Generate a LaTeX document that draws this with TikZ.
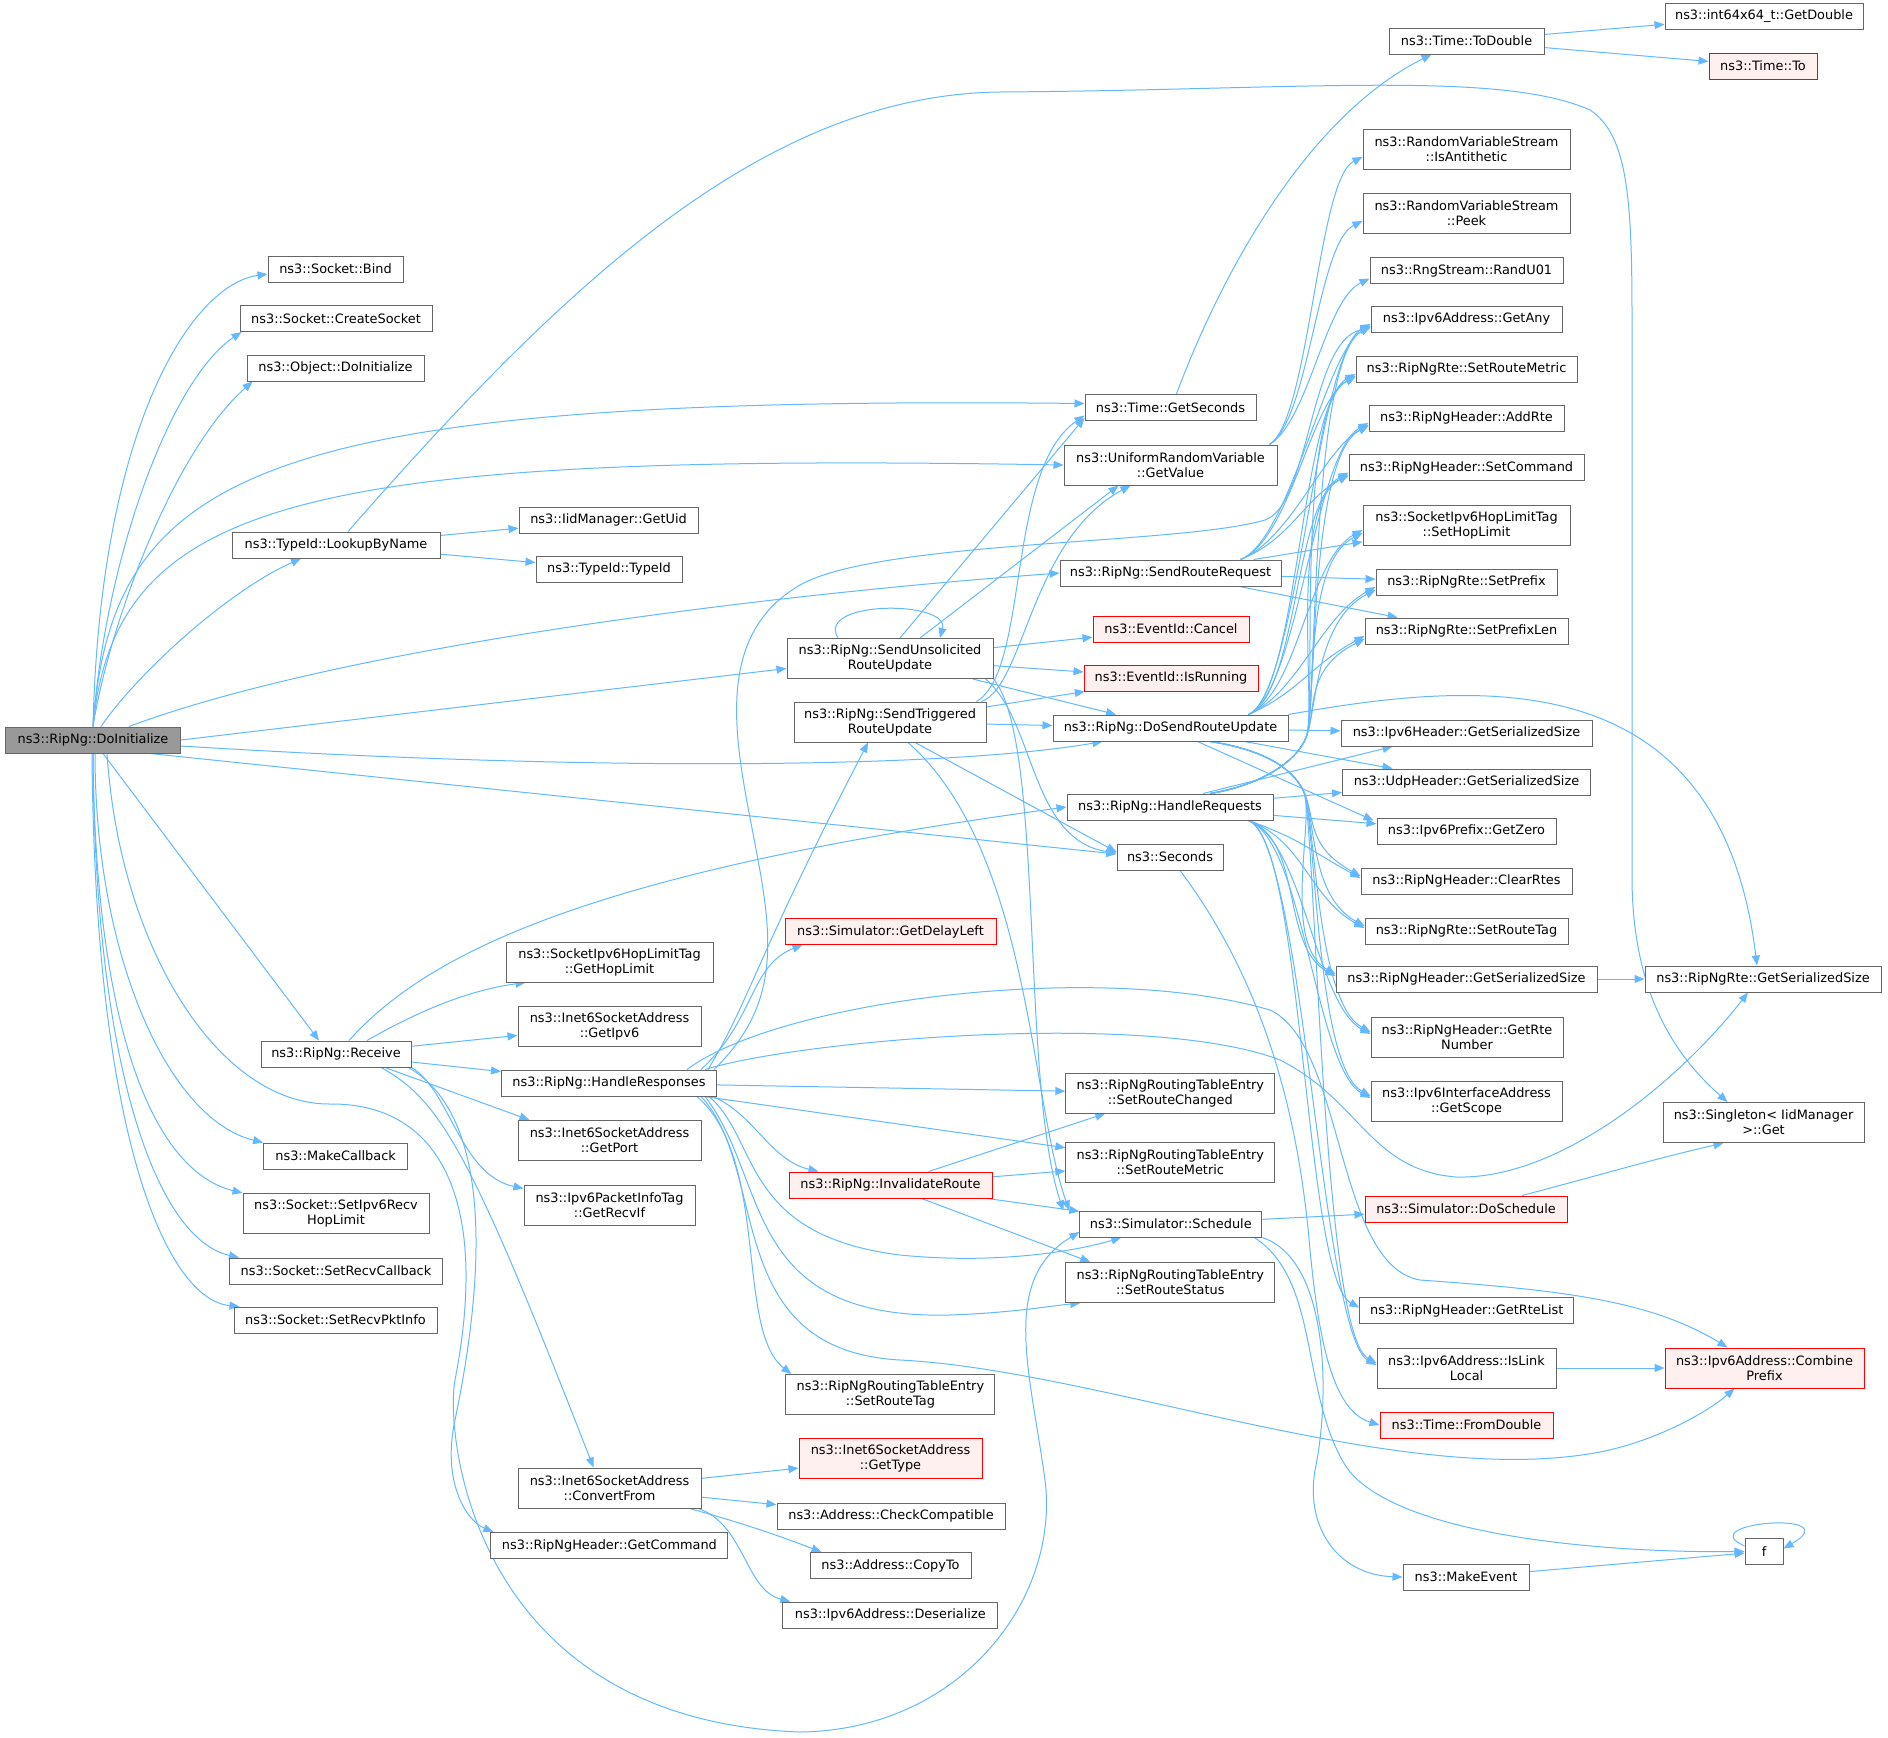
\documentclass[tikz,border=0pt]{standalone}
\usepackage{fontspec}
\usetikzlibrary{arrows.meta,calc}
\newfontfamily\doxyFont{DejaVu Sans}
\definecolor{edgeBlue}{HTML}{63B8FF}
\definecolor{boxGray}{HTML}{666666}
\definecolor{mainFill}{HTML}{999999}
\definecolor{redFill}{HTML}{FFF0F0}

\tikzset{every picture/.style={line width=0.75pt},
        fnBox/.style={draw=boxGray, fill=white, line width=0.75pt, inner sep=0pt, minimum height=19.5pt, align=center, font=\doxyFont\fontsize{9.67pt}{11.25pt}\selectfont},
        fnRed/.style={fnBox, draw=red, fill=redFill},
        fnMain/.style={fnBox, fill=mainFill},
        twoLine/.style={minimum height=30pt},
        wd/.style={minimum width=#1*0.75pt},
        callArrow/.style={draw=edgeBlue, line width=0.75pt, -{Triangle[length=7.5pt,width=6pt]}}}

% all function boxes, drawn twice so that lines don't go over them
\newcommand{\drawFunctions}{
    \node[fnMain, wd=175] (doinit) at (93,740) {ns3::RipNg::DoInitialize};
    \node[fnBox, wd=135] (bind) at (335.5,269) {ns3::Socket::Bind};
    \node[fnBox, wd=192] (createsock) at (336,318.5) {ns3::Socket::CreateSocket};
    \node[fnBox, wd=177] (objinit) at (335.5,368) {ns3::Object::DoInitialize};
    \node[fnBox, wd=208] (lookup) at (336,545) {ns3::TypeId::LookupByName};
    \node[fnBox, wd=179] (getuid) at (608.5,520) {ns3::IidManager::GetUid};
    \node[fnBox, wd=146] (typeid) at (609,569) {ns3::TypeId::TypeId};
    \node[fnBox, twoLine, wd=206] (sendunsol) at (890,658.5) {ns3::RipNg::SendUnsolicited\\RouteUpdate};
    \node[fnBox, twoLine, wd=192] (sendtrig) at (890,722) {ns3::RipNg::SendTriggered\\RouteUpdate};
    \node[fnBox, wd=155] (todouble) at (1466.5,41) {ns3::Time::ToDouble};
    \node[fnBox, wd=198] (getdouble) at (1764,16) {ns3::int64x64\_t::GetDouble};
    \node[fnRed, wd=108] (timeto) at (1763,66) {ns3::Time::To};
    \node[fnBox, twoLine, wd=207] (antithetic) at (1466.5,149) {ns3::RandomVariableStream\\::IsAntithetic};
    \node[fnBox, twoLine, wd=207] (peek) at (1466.5,213) {ns3::RandomVariableStream\\::Peek};
    \node[fnBox, wd=193] (randu01) at (1466.5,270.5) {ns3::RngStream::RandU01};
    \node[fnBox, wd=191] (getany) at (1466.5,319) {ns3::Ipv6Address::GetAny};
    \node[fnBox, wd=221] (rtemetric) at (1466.5,369) {ns3::RipNgRte::SetRouteMetric};
    \node[fnBox, wd=195] (addrte) at (1466.5,418) {ns3::RipNgHeader::AddRte};
    \node[fnBox, wd=235] (setcmd) at (1466.5,467.5) {ns3::RipNgHeader::SetCommand};
    \node[fnBox, twoLine, wd=207] (sethop) at (1466.5,525) {ns3::SocketIpv6HopLimitTag\\::SetHopLimit};
    \node[fnBox, wd=181] (setprefix) at (1466.5,582) {ns3::RipNgRte::SetPrefix};
    \node[fnBox, wd=203] (setprefixlen) at (1466.5,631) {ns3::RipNgRte::SetPrefixLen};
    \node[fnBox, wd=171] (getsec) at (1170.5,407.5) {ns3::Time::GetSeconds};
    \node[fnBox, twoLine, wd=213] (getvalue) at (1170.5,465) {ns3::UniformRandomVariable\\::GetValue};
    \node[fnBox, wd=221] (sendreq) at (1170.5,573) {ns3::RipNg::SendRouteRequest};
    \node[fnRed, wd=156] (cancel) at (1171,629) {ns3::EventId::Cancel};
    \node[fnRed, wd=174] (isrunning) at (1171,678) {ns3::EventId::IsRunning};
    \node[fnBox, wd=235] (dosend) at (1170.5,728) {ns3::RipNg::DoSendRouteUpdate};
    \node[fnBox, wd=251] (ipv6hdrsize) at (1466.5,733) {ns3::Ipv6Header::GetSerializedSize};
    \node[fnBox, wd=248] (udpsize) at (1466.5,782) {ns3::UdpHeader::GetSerializedSize};
    \node[fnBox, wd=206] (handlereq) at (1170,807) {ns3::RipNg::HandleRequests};
    \node[fnBox, wd=179] (getzero) at (1466.5,831) {ns3::Ipv6Prefix::GetZero};
    \node[fnBox, wd=106] (seconds) at (1170,857) {ns3::Seconds};
    \node[fnBox, wd=150] (receive) at (336,1054) {ns3::RipNg::Receive};
    \node[fnBox, twoLine, wd=207] (gethop) at (609.5,962) {ns3::SocketIpv6HopLimitTag\\::GetHopLimit};
    \node[fnBox, twoLine, wd=183] (getipv6) at (609.5,1026) {ns3::Inet6SocketAddress\\::GetIpv6};
    \node[fnBox, wd=215] (handleresp) at (609,1083) {ns3::RipNg::HandleResponses};
    \node[fnBox, twoLine, wd=183] (getport) at (609.5,1140.5) {ns3::Inet6SocketAddress\\::GetPort};
    \node[fnBox, wd=144] (makecb) at (335.6,1156) {ns3::MakeCallback};
    \node[fnBox, twoLine, wd=171] (getrecvif) at (609.5,1205) {ns3::Ipv6PacketInfoTag\\::GetRecvIf};
    \node[fnBox, twoLine, wd=186] (sethoprecv) at (336,1213.5) {ns3::Socket::SetIpv6Recv\\HopLimit};
    \node[fnBox, wd=213] (setrecvcb) at (336,1271) {ns3::Socket::SetRecvCallback};
    \node[fnBox, wd=203] (setpktinfo) at (335.5,1320) {ns3::Socket::SetRecvPktInfo};
    \node[fnRed, wd=211] (delayleft) at (890.5,931.5) {ns3::Simulator::GetDelayLeft};
    \node[fnRed, wd=203] (invalidate) at (890.5,1185) {ns3::RipNg::InvalidateRoute};
    \node[fnBox, twoLine, wd=209] (entrytag) at (890.4,1394.5) {ns3::RipNgRoutingTableEntry\\::SetRouteTag};
    \node[fnRed, twoLine, wd=183] (gettype) at (890.5,1458.5) {ns3::Inet6SocketAddress\\::GetType};
    \node[fnBox, twoLine, wd=183] (convertfrom) at (609.5,1488) {ns3::Inet6SocketAddress\\::ConvertFrom};
    \node[fnBox, wd=228] (checkcompat) at (891,1516) {ns3::Address::CheckCompatible};
    \node[fnBox, wd=161] (copyto) at (890.5,1565.5) {ns3::Address::CopyTo};
    \node[fnBox, wd=215] (deserialize) at (890.3,1615) {ns3::Ipv6Address::Deserialize};
    \node[fnBox, wd=237] (getcommand) at (609.4,1545.5) {ns3::RipNgHeader::GetCommand};
    \node[fnBox, wd=211] (clearrtes) at (1466.5,881) {ns3::RipNgHeader::ClearRtes};
    \node[fnBox, wd=203] (rtetag) at (1466.5,931) {ns3::RipNgRte::SetRouteTag};
    \node[fnBox, wd=261] (hdrsize) at (1466.5,979) {ns3::RipNgHeader::GetSerializedSize};
    \node[fnBox, wd=236] (rtesize) at (1763,979) {ns3::RipNgRte::GetSerializedSize};
    \node[fnBox, twoLine, wd=192] (rtenumber) at (1467,1037) {ns3::RipNgHeader::GetRte\\Number};
    \node[fnBox, twoLine, wd=191] (getscope) at (1466.5,1101) {ns3::Ipv6InterfaceAddress\\::GetScope};
    \node[fnBox, twoLine, wd=201] (singleton) at (1763.5,1122.5) {ns3::Singleton< IidManager\\>::Get};
    \node[fnBox, twoLine, wd=209] (routechanged) at (1170.3,1093) {ns3::RipNgRoutingTableEntry\\::SetRouteChanged};
    \node[fnBox, twoLine, wd=209] (entrymetric) at (1170.3,1162.5) {ns3::RipNgRoutingTableEntry\\::SetRouteMetric};
    \node[fnBox, wd=182] (schedule) at (1170.8,1224) {ns3::Simulator::Schedule};
    \node[fnRed, wd=202] (doschedule) at (1466,1209) {ns3::Simulator::DoSchedule};
    \node[fnBox, twoLine, wd=209] (routestatus) at (1170.3,1282.5) {ns3::RipNgRoutingTableEntry\\::SetRouteStatus};
    \node[fnBox, wd=214] (getrtelist) at (1466.8,1310.5) {ns3::RipNgHeader::GetRteList};
    \node[fnBox, twoLine, wd=179] (islinklocal) at (1466.5,1368) {ns3::Ipv6Address::IsLink\\Local};
    \node[fnRed, twoLine, wd=199] (combineprefix) at (1764.5,1368) {ns3::Ipv6Address::Combine\\Prefix};
    \node[fnRed, wd=173] (fromdouble) at (1466.5,1425) {ns3::Time::FromDouble};
    \node[fnBox, wd=38] (f) at (1764,1551.5) {f};
    \node[fnBox, wd=126] (makeevent) at (1466,1577) {ns3::MakeEvent};
}

\begin{document}
\begin{tikzpicture}[x=0.75pt, y=-0.75pt]
\useasboundingbox (0,0) rectangle (1888,1738);

% draw nodes
\drawFunctions

% calls of DoInitialize
\draw[callArrow] (doinit.north) .. controls (100,430) and (190,285) .. ($(bind.west)+(0,5)$);
\draw[callArrow] (doinit.north) .. controls (105,560) and (170,380) .. ($(createsock.south west)+(2,0)$);
\draw[callArrow] (doinit.north) .. controls (110,620) and (175,450) .. ($(objinit.south west)+(6,0)$);
\draw[callArrow] (doinit.north) .. controls (112,470) and (260,395) .. ($(getsec.west)+(0,-4)$);
\draw[callArrow] (doinit.north) .. controls (115,500) and (300,452) .. (getvalue.west);
\draw[callArrow] ($(doinit.north)+(8,0)$) .. controls (140,670) and (230,590) .. ($(lookup.south)+(-35,0)$);
\draw[callArrow] ($(doinit.north)+(36,0)$) .. controls (320,655) and (700,600) .. (sendreq.west);
\draw[callArrow] (doinit.east) -- ($(sendunsol.west)+(0,10)$);
\draw[callArrow] ($(doinit.east)+(0,6)$) .. controls (600,772) and (950,768) .. ($(dosend.south west)+(50,0)$);
\draw[callArrow] ($(doinit.south)+(57,0)$) -- ($(seconds.west)+(0,-3)$);
\draw[callArrow] ($(doinit.south)+(10,0)$) -- ($(receive.north)+(-17,0)$);
\draw[callArrow] ($(doinit.south)+(2,0)$) .. controls (95,960) and (170,1120) .. (makecb.north west);
\draw[callArrow] (doinit.south) .. controls (95,1020) and (150,1170) .. (sethoprecv.north west);
\draw[callArrow] (doinit.south) .. controls (95,1080) and (160,1240) .. ($(setrecvcb.north west)+(10,0)$);
\draw[callArrow] ($(doinit.south)+(-1,0)$) .. controls (95,1150) and (170,1300) .. ($(setpktinfo.north west)+(6,0)$);
\draw[callArrow] ($(doinit.south)+(14,0)$) .. controls (120,950) and (220,1105) .. (330,1104) .. controls (440,1103) and (490,1200) .. (455,1380) .. controls (445,1432) and (470,1720) .. (800,1732) .. controls (960,1730) and (1060,1600) .. (1045,1480) .. controls (1030,1370) and (1000,1280) .. ($(schedule.west)+(0,8)$);

% calls of LookupByName and of the time helpers
\draw[callArrow] (lookup) -- (getuid);
\draw[callArrow] (lookup) -- (typeid);
\draw[callArrow] ($(lookup.north)+(12,0)$) .. controls (560,290) and (760,95) .. (1000,92) .. controls (1300,90) and (1500,70) .. (1590,110) .. controls (1628,135) and (1632,200) .. (1632,320) -- (1632,880) .. controls (1633,1000) and (1680,1060) .. ($(singleton.north)+(-36,0)$);
\draw[callArrow] ($(getsec.north)+(6,0)$) .. controls (1215,290) and (1300,120) .. ($(todouble.south west)+(43,0)$);
\draw[callArrow] (todouble) -- (getdouble);
\draw[callArrow] (todouble) -- (timeto);
\foreach \callee in {antithetic,peek,randu01} {
    \draw[callArrow] ($(getvalue.north east)+(-8,0)$) .. controls +(40,-25) and +(-45,22) .. ($(\callee.west)+(0,8)$);
}

% calls of SendUnsolicitedRouteUpdate
\draw[callArrow] ($(sendunsol.north)+(-52,0)$) .. controls (815,600) and (950,600) .. ($(sendunsol.north)+(50,0)$);
\draw[callArrow] ($(sendunsol.north)+(10,0)$) -- ($(getsec.south west)+(0,-3)$);
\draw[callArrow] ($(sendunsol.north)+(30,0)$) -- ($(getvalue.south)+(-52,0)$);
\draw[callArrow] (sendunsol) -- (cancel);
\draw[callArrow] (sendunsol) -- (isrunning);
\draw[callArrow] (sendunsol) -- (dosend);
\draw[callArrow] ($(sendunsol.south east)+(-8,0)$) .. controls (1035,720) and (1030,840) .. ($(seconds.west)+(0,-4)$);
\draw[callArrow] (sendunsol.south east) .. controls (1045,740) and (1020,1080) .. ($(schedule.north west)+(-16,0)$);

% calls of SendTriggeredRouteUpdate
\draw[callArrow] ($(sendtrig.north east)+(-5,0)$) .. controls (1025,685) and (1030,540) .. ($(getvalue.south)+(-40,0)$);
\draw[callArrow] ($(sendtrig.north east)+(-10,0)$) .. controls (1030,670) and (1005,470) .. ($(getsec.west)+(0,8)$);
\draw[callArrow] (sendtrig) -- (isrunning);
\draw[callArrow] (sendtrig) -- (dosend);
\draw[callArrow] ($(sendtrig.south)+(25,0)$) -- ($(seconds.west)+(0,-5)$);
\draw[callArrow] ($(sendtrig.south)+(18,0)$) .. controls (1030,850) and (1030,1100) .. ($(schedule.north west)+(-10,0)$);

% calls of SendRouteRequest
\draw[callArrow] (sendreq) -- (sethop);
\draw[callArrow] (sendreq) -- (setprefix);
\draw[callArrow] (sendreq) -- (setprefixlen);
\foreach \callee in {getany,rtemetric,addrte,setcmd} {
    \draw[callArrow] ($(sendreq.north)+(70,0)$) .. controls +(50,-20) and +(-45,25) .. ($(\callee.west)+(0,7)$);
}

% calls of DoSendRouteUpdate
\draw[callArrow] (dosend) -- (ipv6hdrsize);
\draw[callArrow] (dosend) -- (udpsize);
\draw[callArrow] ($(dosend.south)+(27,0)$) -- ($(getzero.north west)+(-3,3)$);
\draw[callArrow] (dosend.north east) .. controls (1480,680) and (1720,660) .. ($(rtesize.north)+(-6,0)$);
\foreach \callee in {getany,rtemetric,addrte,setcmd,sethop,setprefix,setprefixlen} {
    \draw[callArrow] ($(dosend.north east)+(-40,0)$) .. controls +(50,-22) and +(-55,30) .. ($(\callee.west)+(0,5)$);
}
\foreach \callee in {clearrtes,rtetag,hdrsize,rtenumber,getscope,islinklocal} {
    \draw[callArrow] ($(dosend.south)+(40,0)$) .. controls +(50,8) and +(-12,-25) .. ($(handlereq.east)+(30,-16)$) .. controls +(12,25) and +(-55,-30) .. ($(\callee.west)+(0,-5)$);
}

% calls of HandleRequests
\draw[callArrow] ($(handlereq.north)+(33,0)$) -- ($(ipv6hdrsize.south west)+(52,0)$);
\draw[callArrow] (handlereq) -- (udpsize);
\draw[callArrow] (handlereq) -- (getzero);
\foreach \callee in {getany,rtemetric,addrte,setcmd,sethop,setprefix,setprefixlen} {
    \draw[callArrow] ($(handlereq.north)+(40,0)$) .. controls +(50,-8) and +(-8,25) .. ($(dosend.east)+(18,8)$) .. controls +(10,-25) and +(-60,30) .. ($(\callee.west)+(0,8)$);
}
\foreach \callee in {clearrtes,rtetag,hdrsize,rtenumber,getscope,getrtelist,islinklocal} {
    \draw[callArrow] ($(handlereq.south east)+(-25,0)$) .. controls +(55,20) and +(-55,-30) .. ($(\callee.west)+(0,-3)$);
}

% calls of Receive
\draw[callArrow] ($(receive.north)+(31,0)$) .. controls (420,1010) and (470,990) .. ($(gethop.south west)+(20,0)$);
\draw[callArrow] (receive) -- (getipv6);
\draw[callArrow] (receive) -- (handleresp);
\draw[callArrow] ($(receive.south)+(49,0)$) -- ($(getport.north west)+(12,0)$);
\draw[callArrow] (receive.south east) .. controls (450,1090) and (460,1175) .. ($(getrecvif.north west)+(0,4)$);
\draw[callArrow] ($(receive.south)+(45,0)$) .. controls (440,1100) and (470,1150) .. ($(convertfrom.north)+(-16,0)$);
\draw[callArrow] ($(receive.south east)+(-3,0)$) .. controls (500,1120) and (480,1300) .. (455,1420) .. controls (442,1480) and (465,1520) .. ($(getcommand.north west)+(3,0)$);
\draw[callArrow] ($(receive.north)+(13,0)$) .. controls (430,950) and (600,870) .. (handlereq.west);

% calls of ConvertFrom
\draw[callArrow] (convertfrom) -- (gettype);
\draw[callArrow] (convertfrom) -- (checkcompat);
\draw[callArrow] ($(convertfrom.south east)+(-12,0)$) .. controls (750,1525) and (790,1540) .. ($(copyto.north west)+(12,0)$);
\draw[callArrow] ($(convertfrom.south east)+(-3,0)$) .. controls (745,1525) and (745,1590) .. ($(deserialize.north west)+(8,0)$);

% calls of HandleResponses
\draw[callArrow] ($(handleresp.north east)+(-9,0)$) .. controls (750,1000) and (755,960) .. ($(sendtrig.south)+(-22,0)$);
\draw[callArrow] ($(handleresp.north east)+(-16,0)$) .. controls (755,1020) and (750,965) .. ($(delayleft.south west)+(18,0)$);
\draw[callArrow] ($(handleresp.north east)+(-3,0)$) .. controls (775,1010) and (775,950) .. (758,860) .. controls (740,760) and (705,640) .. (800,585) .. controls (880,540) and (1180,545) .. (1265,520) .. controls (1310,505) and (1310,340) .. ($(getany.west)+(0,9)$);
\draw[callArrow] ($(handleresp.north east)+(-12,0)$) .. controls (800,1040) and (1150,1010) .. (1280,1060) .. controls (1360,1100) and (1370,1170) .. (1456,1177) .. controls (1560,1180) and (1680,1080) .. ($(rtesize.south)+(-15,0)$);
\draw[callArrow] ($(handleresp.north east)+(-30,0)$) .. controls (780,1000) and (1100,960) .. (1270,1010) .. controls (1345,1045) and (1335,1265) .. (1420,1280) .. controls (1560,1290) and (1650,1300) .. ($(combineprefix.north)+(-37,0)$);
\draw[callArrow] (handleresp) -- (routechanged);
\draw[callArrow] (handleresp) -- (entrymetric);
\draw[callArrow] ($(handleresp.south east)+(-4,0)$) .. controls (755,1115) and (770,1160) .. ($(invalidate.north west)+(30,0)$);
\draw[callArrow] ($(handleresp.south east)+(-8,0)$) .. controls (760,1140) and (740,1235) .. (900,1255) .. controls (1000,1265) and (1080,1250) .. ($(schedule.south west)+(42,0)$);
\draw[callArrow] ($(handleresp.south east)+(-12,0)$) .. controls (770,1180) and (740,1320) .. (950,1315) .. controls (1010,1313) and (1050,1306) .. ($(routestatus.south west)+(15,0)$);
\draw[callArrow] ($(handleresp.south east)+(-16,0)$) .. controls (770,1170) and (720,1350) .. (900,1360) .. controls (1100,1370) and (1400,1490) .. (1600,1452) .. controls (1660,1440) and (1710,1410) .. ($(combineprefix.south)+(-30,0)$);
\draw[callArrow] ($(handleresp.south east)+(-20,0)$) .. controls (770,1160) and (735,1330) .. ($(entrytag.north west)+(6,0)$);

% calls of InvalidateRoute
\draw[callArrow] ($(invalidate.north)+(38,0)$) -- ($(routechanged.south west)+(40,0)$);
\draw[callArrow] (invalidate) -- (entrymetric);
\draw[callArrow] (invalidate) -- (schedule);
\draw[callArrow] ($(invalidate.south)+(31,0)$) -- ($(routestatus.north west)+(25,0)$);

% remaining calls
\draw[callArrow] ($(seconds.south)+(10,0)$) .. controls (1270,990) and (1300,1130) .. (1310,1250) .. controls (1318,1330) and (1330,1410) .. (fromdouble.west);
\draw[callArrow] (schedule) -- (doschedule);
\draw[callArrow] (schedule.south east) .. controls (1330,1260) and (1330,1400) .. (1315,1470) .. controls (1305,1530) and (1340,1575) .. (makeevent.west);
\draw[callArrow] ($(schedule.south east)+(-8,0)$) .. controls (1320,1280) and (1300,1390) .. (1345,1465) .. controls (1390,1535) and (1600,1553) .. (f.west);
\draw[callArrow] ($(doschedule.north)+(56,0)$) .. controls (1600,1175) and (1650,1160) .. ($(singleton.south)+(-40,0)$);
\draw[callArrow] (hdrsize) -- (rtesize);
\draw[callArrow] (islinklocal) -- (combineprefix);
\draw[callArrow] (makeevent) -- (f);
\draw[callArrow] ($(f.north west)+(0,8)$) .. controls (1690,1522) and (1850,1510) .. ($(f.east)+(0,-3)$);

% draw nodes again such that lines don't go over nodes
\drawFunctions

\end{tikzpicture}
\end{document}
